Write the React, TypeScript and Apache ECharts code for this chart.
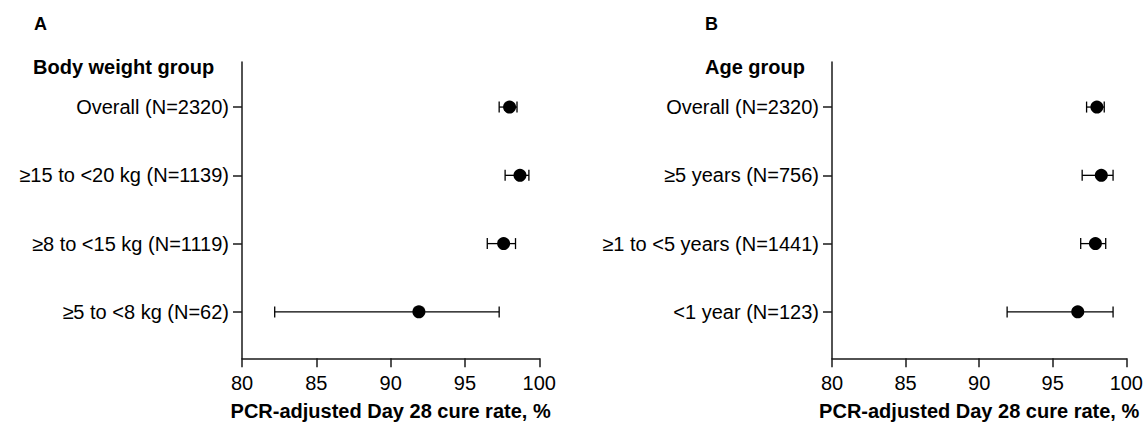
import React, { useEffect, useRef } from "react";
import * as echarts from "echarts";

const weightCategories = [
  "Overall (N=2320)",
  "≥15 to <20 kg (N=1139)",
  "≥8 to <15 kg (N=1119)",
  "≥5 to <8 kg (N=62)",
];
const weightRate = [98.0, 98.7, 97.6, 91.9];
const weightLow = [97.3, 97.7, 96.5, 82.2];
const weightHigh = [98.5, 99.3, 98.4, 97.3];

const ageCategories = [
  "Overall (N=2320)",
  "≥5 years (N=756)",
  "≥1 to <5 years (N=1441)",
  "<1 year (N=123)",
];
const ageRate = [98.0, 98.3, 97.9, 96.7];
const ageLow = [97.3, 97.0, 96.9, 91.9];
const ageHigh = [98.5, 99.1, 98.6, 99.1];

const xMin = 80;
const xMax = 100;
const xStep = 5;
const axisTitle = "PCR-adjusted Day 28 cure rate, %";

const FONT = "'Liberation Sans', Arial, Helvetica, sans-serif";
const INK = "#000";
const AXIS = "#1a1a1a";

function errorRender(params: any, api: any) {
  const y = api.value(2);
  const a = api.coord([api.value(0), y]);
  const b = api.coord([api.value(1), y]);
  const h = 5.5;
  const style = { stroke: INK, lineWidth: 1.3, fill: null };
  return {
    type: "group",
    children: [
      { type: "line", shape: { x1: a[0], y1: a[1], x2: b[0], y2: b[1] }, style },
      { type: "line", shape: { x1: a[0], y1: a[1] - h, x2: a[0], y2: a[1] + h }, style },
      { type: "line", shape: { x1: b[0], y1: b[1] - h, x2: b[0], y2: b[1] + h }, style },
    ],
  };
}

export default function App() {
  const ref = useRef<HTMLDivElement>(null);
  useEffect(() => {
    document.body.style.margin = "0";
    if (!ref.current) return;
    const chart = echarts.init(ref.current, null, { renderer: "svg" });
    const idx = [0, 1, 2, 3];
    const makeX = (gi: number) => ({
      type: "value",
      gridIndex: gi,
      min: xMin,
      max: xMax,
      interval: xStep,
      splitLine: { show: false },
      axisLine: { show: true, onZero: false, lineStyle: { color: AXIS, width: 1.5 } },
      axisTick: { show: true, length: 9, lineStyle: { color: AXIS, width: 1.5 } },
      axisLabel: { color: INK, fontSize: 20, fontFamily: FONT, margin: 15 },
      name: axisTitle,
      nameLocation: "middle",
      nameGap: 43,
      nameTextStyle: { color: INK, fontSize: 20, fontWeight: "bold", fontFamily: FONT },
    });
    const makeY = (gi: number, cats: string[]) => ({
      type: "value",
      gridIndex: gi,
      inverse: true,
      min: -0.66,
      max: 3.68,
      splitLine: { show: false },
      axisLine: { show: true, onZero: false, lineStyle: { color: AXIS, width: 1.5 } },
      axisTick: { show: true, length: 9, customValues: idx, lineStyle: { color: AXIS, width: 1.5 } },
      axisLabel: {
        color: INK,
        fontSize: 20,
        fontFamily: FONT,
        margin: 13,
        customValues: idx,
        formatter: (v: number) => cats[Math.round(v)] ?? "",
      },
    });
    const errData = (lo: number[], hi: number[]) => lo.map((l, i) => [l, hi[i], i]);
    const ptData = (r: number[]) => r.map((v, i) => [v, i]);
    const dot = {
      type: "scatter",
      symbol: "circle",
      symbolSize: 13,
      itemStyle: { color: INK, opacity: 1 },
      emphasis: { disabled: true },
      z: 3,
    };
    chart.setOption({
      animation: false,
      backgroundColor: "#fff",
      grid: [
        { left: 242, right: 606.7, top: 62, bottom: 68.7 },
        { left: 832, right: 16, top: 62, bottom: 68.7 },
      ],
      xAxis: [makeX(0), makeX(1)],
      yAxis: [makeY(0, weightCategories), makeY(1, ageCategories)],
      graphic: [
        { type: "text", left: 34, top: 15, style: { text: "A", font: `bold 18px ${FONT}`, fill: INK } },
        { type: "text", left: 33, top: 57, style: { text: "Body weight group", font: `bold 20px ${FONT}`, fill: INK } },
        { type: "text", left: 705, top: 15, style: { text: "B", font: `bold 18px ${FONT}`, fill: INK } },
        { type: "text", left: 705, top: 57, style: { text: "Age group", font: `bold 20px ${FONT}`, fill: INK } },
      ],
      series: [
        {
          type: "custom",
          xAxisIndex: 0,
          yAxisIndex: 0,
          renderItem: errorRender,
          encode: { x: [0, 1], y: 2 },
          data: errData(weightLow, weightHigh),
          z: 2,
        },
        { ...dot, xAxisIndex: 0, yAxisIndex: 0, data: ptData(weightRate) },
        {
          type: "custom",
          xAxisIndex: 1,
          yAxisIndex: 1,
          renderItem: errorRender,
          encode: { x: [0, 1], y: 2 },
          data: errData(ageLow, ageHigh),
          z: 2,
        },
        { ...dot, xAxisIndex: 1, yAxisIndex: 1, data: ptData(ageRate) },
      ],
    });
    return () => chart.dispose();
  }, []);
  return <div ref={ref} style={{ width: 1146, height: 427 }} />;
}
